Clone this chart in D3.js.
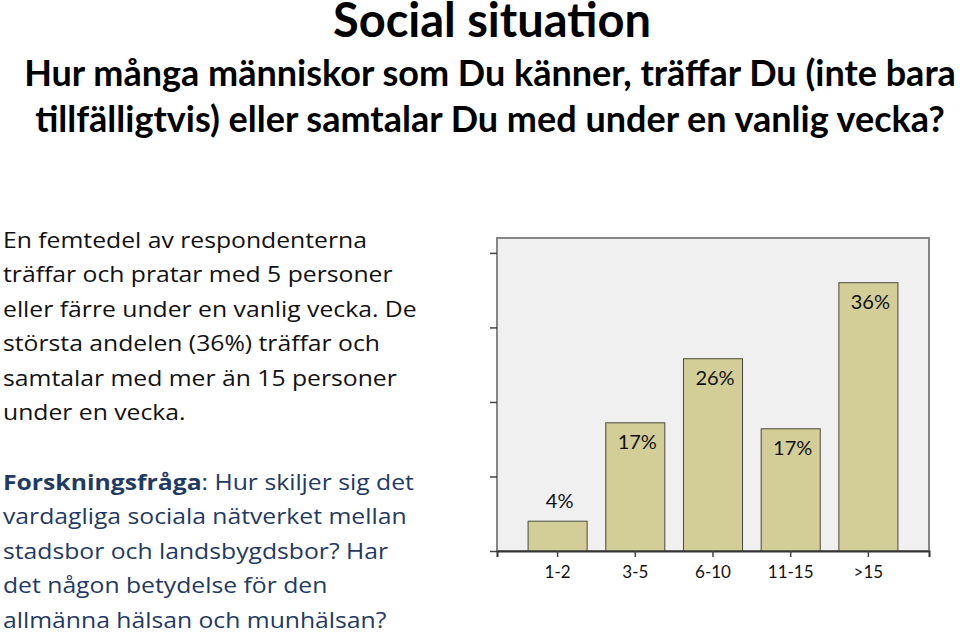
<!DOCTYPE html>
<html>
<head>
<meta charset="utf-8">
<script src="https://cdn.jsdelivr.net/npm/d3@7"></script>
<style>
  body { margin: 0; background: #fff; }
  svg { display: block; }
</style>
</head>
<body>
<div id="chart"></div>
<script>
var categories = ["1-2", "3-5", "6-10", "11-15", ">15"];
var values = [4.0, 17.2, 25.8, 16.4, 36.0];
var valueLabels = ["4%", "17%", "26%", "17%", "36%"];
var yTicks = [0, 10, 20, 30, 40];

var titleLines = ["Hur många människor som Du känner, träffar Du (inte bara",
                  "tillfälligtvis) eller samtalar Du med under en vanlig vecka?"];
var bodyLines = ["En femtedel av respondenterna",
                 "träffar och pratar med 5 personer",
                 "eller färre under en vanlig vecka. De",
                 "största andelen (36%) träffar och",
                 "samtalar med mer än 15 personer",
                 "under en vecka."];
var questionLines = [": Hur skiljer sig det",
                     "vardagliga sociala nätverket mellan",
                     "stadsbor och landsbygdsbor? Har",
                     "det någon betydelse för den",
                     "allmänna hälsan och munhälsan?"];

var svg = d3.select("#chart").append("svg")
	.attr("width", 960)
	.attr("height", 632);

// headings
svg.append("text")
	.attr("x", 492).attr("y", 37)
	.attr("text-anchor", "middle")
	.style("font-family", "Lato")
	.style("font-weight", "bold")
	.style("font-size", "47px")
	.style("fill", "#000")
	.text("Social situation");

svg.selectAll("text.sub")
	.data(titleLines)
	.enter().append("text")
	.attr("class", "sub")
	.attr("x", 490)
	.attr("y", function(d, i) { return 86 + i * 46; })
	.attr("text-anchor", "middle")
	.style("font-family", "Lato")
	.style("font-weight", "bold")
	.style("font-size", "36px")
	.style("fill", "#000")
	.text(function(d) { return d; });

// left text, a little wider than Open Sans
var side = svg.append("g")
	.attr("transform", "translate(3,0) scale(1.15,1)");

side.selectAll("text.body")
	.data(bodyLines)
	.enter().append("text")
	.attr("class", "body")
	.attr("x", 0)
	.attr("y", function(d, i) { return 248 + i * 34.4; })
	.style("font-family", "Open Sans")
	.style("font-size", "21.5px")
	.style("fill", "#111")
	.text(function(d) { return d; });

var q = side.selectAll("text.q")
	.data(questionLines)
	.enter().append("text")
	.attr("class", "q")
	.attr("x", 0)
	.attr("y", function(d, i) { return 490 + i * 34.4; })
	.style("font-family", "Open Sans")
	.style("font-size", "21.5px")
	.style("fill", "#1f3a64");
q.filter(function(d, i) { return i == 0; })
	.append("tspan").style("font-weight", "bold").text("Forskningsfråga");
q.append("tspan").text(function(d) { return d; });

// chart
var plotLeft = 497, plotRight = 929, plotTop = 238, plotBottom = 551;

var x = d3.scaleBand()
	.domain(categories)
	.range([plotLeft, plotRight])
	.paddingInner(0.24)
	.paddingOuter(0.40);

var y = d3.scaleLinear()
	.domain([0, 42])
	.range([plotBottom, plotTop]);

svg.append("rect")
	.attr("x", plotLeft).attr("y", plotTop)
	.attr("width", plotRight - plotLeft).attr("height", plotBottom - plotTop)
	.style("fill", "#f0f0f0")
	.style("stroke", "#858585")
	.style("stroke-width", 2);

svg.append("g")
	.attr("transform", "translate(" + plotLeft + ",0)")
	.call(d3.axisLeft(y).tickValues(yTicks).tickSize(7).tickFormat(""))
	.call(function(g) {
		g.select(".domain").remove();
		g.selectAll("line").style("stroke", "#444").style("stroke-width", 1.5);
	});

svg.selectAll("rect.bar")
	.data(values)
	.enter().append("rect")
	.attr("class", "bar")
	.attr("x", function(d, i) { return x(categories[i]); })
	.attr("y", function(d) { return y(d); })
	.attr("width", x.bandwidth())
	.attr("height", function(d) { return plotBottom - y(d); })
	.style("fill", "#d3ce97")
	.style("stroke", "#4a4a3c")
	.style("stroke-width", 1);

svg.selectAll("text.val")
	.data(values)
	.enter().append("text")
	.attr("class", "val")
	.attr("x", function(d, i) { return x(categories[i]) + x.bandwidth() / 2 + 2; })
	.attr("y", function(d) { return d < 10 ? y(d) - 13 : y(d) + 26; })
	.attr("text-anchor", "middle")
	.style("font-family", "Lato")
	.style("font-size", "20px")
	.style("fill", "#111")
	.text(function(d, i) { return valueLabels[i]; });

var xAxis = svg.append("g")
	.attr("transform", "translate(0," + plotBottom + ")")
	.call(d3.axisBottom(x).tickSize(6).tickPadding(9));
xAxis.select(".domain").style("stroke", "#333").style("stroke-width", 2);
xAxis.selectAll("line").style("stroke", "#444").style("stroke-width", 1.5);
xAxis.selectAll("text")
	.style("font-family", "Lato")
	.style("font-size", "17px")
	.style("fill", "#111");
</script>
</body>
</html>
